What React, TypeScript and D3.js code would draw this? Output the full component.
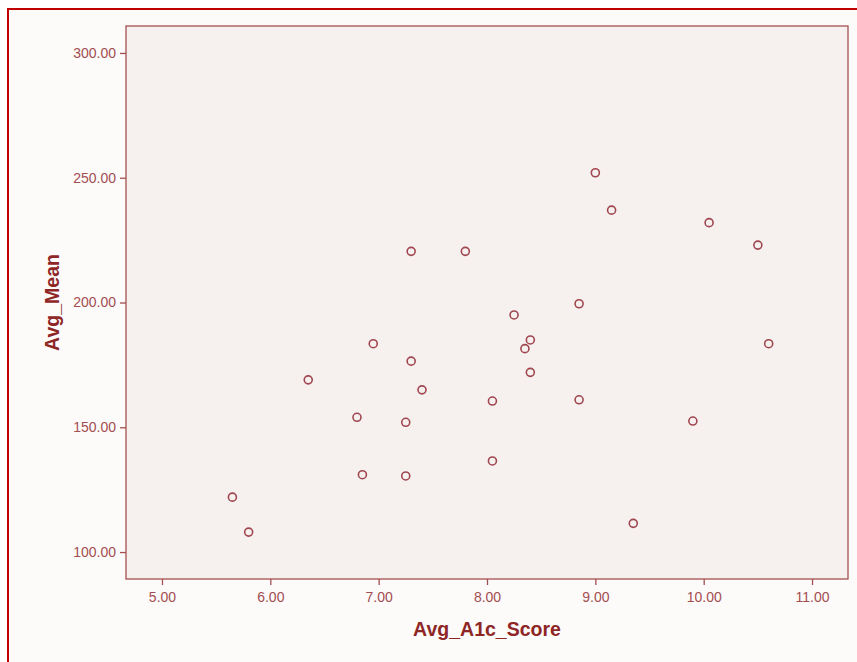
import React, { useEffect, useRef } from 'react';
import * as d3 from 'd3';

// Avg_A1c_Score (x) and Avg_Mean (y), one entry per case
const a1cScores = [5.65, 5.8, 6.35, 6.8, 6.85, 6.95, 7.25, 7.25, 7.3, 7.3, 7.4, 7.8, 8.05, 8.05, 8.25, 8.35, 8.4, 8.4, 8.85, 8.85, 9.0, 9.15, 9.35, 9.9, 10.05, 10.5, 10.6];
const meanValues = [122, 108, 169, 154, 131, 183.5, 152, 130.5, 176.5, 220.5, 165, 220.5, 160.5, 136.5, 195, 181.5, 185, 172, 199.5, 161, 252, 237, 111.5, 152.5, 232, 223, 183.5];

const xTicks = [5, 6, 7, 8, 9, 10, 11];
const yTicks = [100, 150, 200, 250, 300];

const xLabel = 'Avg_A1c_Score';
const yLabel = 'Avg_Mean';

const width = 857;
const height = 662;
const marginLeft = 126;
const marginRight = 9;
const marginTop = 26;
const marginBottom = 83;

const axisColor = '#a4504f';
const tickTextColor = '#a24e50';
const pointColor = '#a0464f';
const titleColor = '#8e2626';
const font = 'Liberation Sans, Arial, sans-serif';

export default function App() {
  const svgRef = useRef<SVGSVGElement | null>(null);

  useEffect(() => {
    const svg = d3.select(svgRef.current)
      .attr('width', width)
      .attr('height', height)
      .attr('viewBox', [0, 0, width, height]);

    svg.selectAll('*').remove();

    const data = a1cScores.map((x, i) => ({ x, y: meanValues[i] }));

    const x = d3.scaleLinear()
      .domain([4.668, 11.332])
      .range([marginLeft, width - marginRight]);

    const y = d3.scaleLinear()
      .domain([89.2, 310.8])
      .range([height - marginBottom, marginTop]);

    // page background + red frame (runs off the right and bottom edges)
    svg.append('rect')
      .attr('width', width).attr('height', height)
      .attr('fill', '#ffffff');
    svg.append('rect')
      .attr('x', 8).attr('y', 9)
      .attr('width', width + 20).attr('height', height + 20)
      .attr('fill', '#fdfafa')
      .attr('stroke', '#c00000')
      .attr('stroke-width', 2);

    // plot area
    svg.append('rect')
      .attr('x', marginLeft)
      .attr('y', marginTop)
      .attr('width', width - marginRight - marginLeft)
      .attr('height', height - marginBottom - marginTop)
      .attr('fill', '#f6f0ef')
      .attr('stroke', axisColor)
      .attr('stroke-width', 1.3);

    const xAxis = svg.append('g')
      .attr('transform', `translate(0, ${height - marginBottom})`)
      .call(d3.axisBottom(x).tickValues(xTicks).tickFormat(d3.format('.2f')).tickSize(6).tickSizeOuter(0).tickPadding(7));
    xAxis.select('.domain').remove();
    xAxis.selectAll('line').attr('stroke', axisColor).attr('stroke-width', 1.3);
    xAxis.selectAll('.tick text')
      .attr('fill', tickTextColor)
      .attr('font-size', '14px')
      .attr('font-family', font);

    const yAxis = svg.append('g')
      .attr('transform', `translate(${marginLeft}, 0)`)
      .call(d3.axisLeft(y).tickValues(yTicks).tickFormat(d3.format('.2f')).tickSize(6).tickSizeOuter(0).tickPadding(4));
    yAxis.select('.domain').remove();
    yAxis.selectAll('line').attr('stroke', axisColor).attr('stroke-width', 1.3);
    yAxis.selectAll('.tick text')
      .attr('fill', tickTextColor)
      .attr('font-size', '14px')
      .attr('font-family', font);

    // points
    svg.append('g')
      .selectAll('circle')
      .data(data)
      .join('circle')
      .attr('cx', d => x(d.x))
      .attr('cy', d => y(d.y))
      .attr('r', 4)
      .attr('fill', 'none')
      .attr('stroke', pointColor)
      .attr('stroke-width', 1.6);

    // axis titles
    svg.append('text')
      .attr('x', (marginLeft + width - marginRight) / 2)
      .attr('y', 636)
      .attr('text-anchor', 'middle')
      .attr('fill', titleColor)
      .attr('font-size', '19.5px')
      .attr('font-weight', 'bold')
      .attr('font-family', font)
      .text(xLabel);

    svg.append('text')
      .attr('transform', `translate(59, ${(marginTop + height - marginBottom) / 2}) rotate(-90)`)
      .attr('text-anchor', 'middle')
      .attr('fill', titleColor)
      .attr('font-size', '19.5px')
      .attr('font-weight', 'bold')
      .attr('font-family', font)
      .text(yLabel);
  }, []);

  return (
    <svg ref={svgRef} style={{ position: 'absolute', left: 0, top: 0, display: 'block' }}></svg>
  );
}
